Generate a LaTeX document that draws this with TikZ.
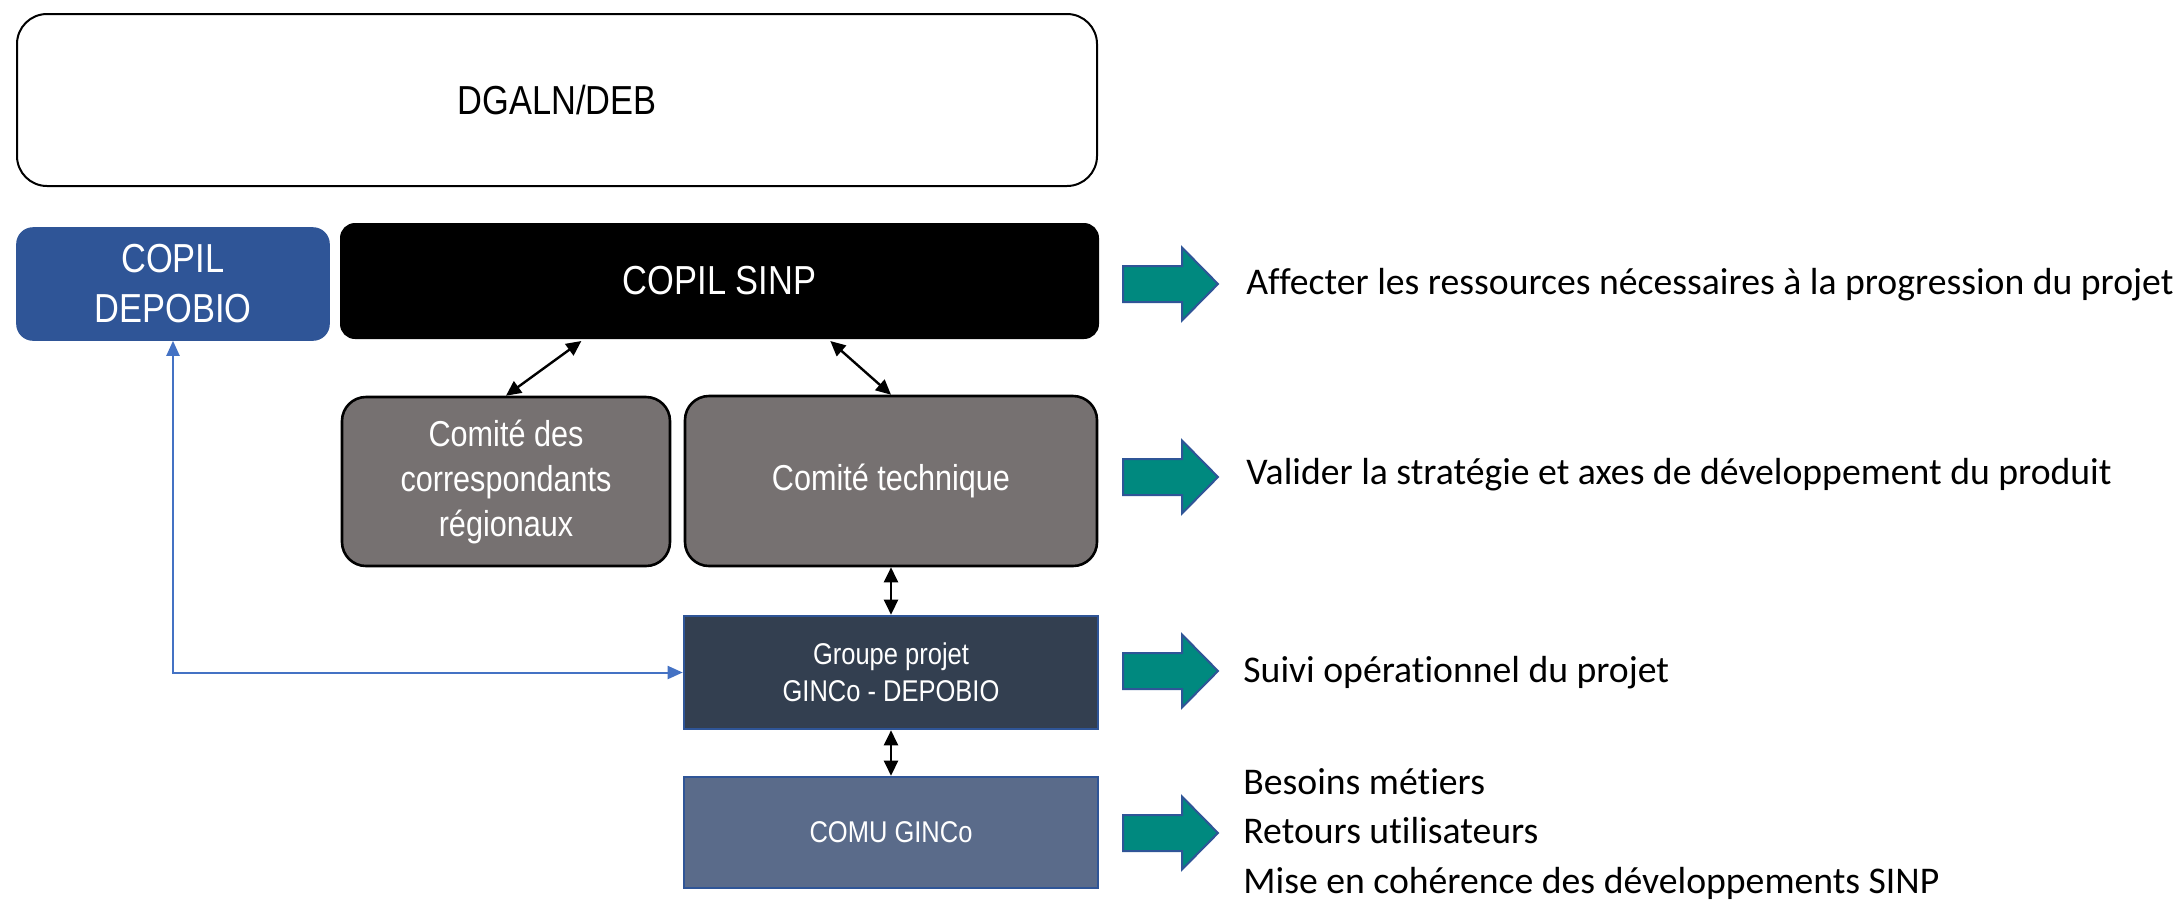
\documentclass[tikz,border=0pt]{standalone}
\usepackage{fontspec}
\setmainfont{Liberation Sans}[FakeStretch=0.85]
\newfontfamily\calib{Carlito}[Ligatures=NoCommon]
\usetikzlibrary{arrows.meta,calc}
\definecolor{depblue}{HTML}{2F5597}
\definecolor{grayc}{HTML}{767171}
\definecolor{gpfill}{HTML}{333F50}
\definecolor{comufill}{HTML}{5A6B8A}
\definecolor{linkblue}{HTML}{4472C4}
\definecolor{tealc}{HTML}{00897F}
\definecolor{tealedge}{HTML}{2F5597}
\tikzset{
  box/.style={inner sep=0pt, align=center, text=white},
  bigfont/.style={font=\fontsize{20.25}{25}\selectfont},
  midfont/.style={font=\fontsize{18}{22.5}\selectfont},
  smallfont/.style={font=\fontsize{15}{18.75}\selectfont},
  rtext/.style={inner sep=0pt, anchor=west, align=left, font=\calib\fontsize{18.85}{24.7}\selectfont},
  dbl/.style={{Triangle[length=7.5pt,width=7pt]}-{Triangle[length=7.5pt,width=7pt]}, line width=1.2pt, black},
  bluelink/.style={{Triangle[length=7.5pt,width=6.5pt]}-{Triangle[length=7.5pt,width=6.5pt]}, line width=1pt, linkblue},
  blockarrow/.pic={\draw[fill=tealc, draw=tealedge, line width=1pt, line join=miter]
     (0,-18) -- (59,-18) -- (59,-36.5) -- (95,0) -- (59,36.5) -- (59,18) -- (0,18) -- cycle;}
}
\begin{document}
\begin{tikzpicture}[x=0.5pt,y=-0.5pt]
\useasboundingbox (0,0) rectangle (2184,901);
% boxes
\node[box, text=black, draw=black, line width=1pt, fill=white, rounded corners=15pt,
      minimum width=540pt, minimum height=86pt, bigfont] (dgaln) at (557,100) {DGALN/DEB};
\node[box, draw=depblue, line width=0.8pt, fill=depblue, rounded corners=8pt,
      minimum width=156pt, minimum height=56pt, bigfont] (dep) at (173,284) {COPIL\\DEPOBIO};
\node[box, draw=black, line width=1pt, fill=black, rounded corners=7pt,
      minimum width=378.5pt, minimum height=57pt, bigfont] (sinp) at (719.5,281) {COPIL SINP};
\node[box, draw=black, line width=1.3pt, fill=grayc, rounded corners=12pt,
      minimum width=164pt, minimum height=84.5pt, midfont] (cdc) at (506,481.5) {Comité des\\correspondants\\régionaux};
\node[box, draw=black, line width=1.3pt, fill=grayc, rounded corners=12pt,
      minimum width=206pt, minimum height=85pt, midfont] (ct) at (891,481) {Comité technique};
\node[box, draw=depblue, line width=1.3pt, fill=gpfill,
      minimum width=207pt, minimum height=56.5pt, smallfont] (gp) at (891,672.5) {Groupe projet\\GINCo - DEPOBIO};
\node[box, draw=depblue, line width=1.3pt, fill=comufill,
      minimum width=207pt, minimum height=55.5pt, smallfont] (comu) at (891,832.5) {COMU GINCo};
% connectors
\draw[dbl] (cdc.north) -- ($(sinp.south west)!0.318!(sinp.south east)+(0,2)$);
\draw[dbl] (ct.north) -- ($(sinp.south west)!0.646!(sinp.south east)+(0,2)$);
\draw[dbl] (ct.south) -- (gp.north);
\draw[dbl] (gp.south) -- (comu.north);
\draw[bluelink] (dep.south) |- (gp.west);
% block arrows
\pic at (1123,284) {blockarrow};
\pic at (1123,477) {blockarrow};
\pic at (1123,671) {blockarrow};
\pic at (1123,833) {blockarrow};
% right texts
\node[rtext] (t1) at (1246,285) {Affecter les ressources nécessaires à la progression du projet};
\node[rtext] (t2) at (1246,475) {Valider la stratégie et axes de développement du produit};
\node[rtext] (t3) at (1243,673) {Suivi opérationnel du projet};
\node[rtext] (t4) at (1243,834) {Besoins métiers\\Retours utilisateurs\\Mise en cohérence des développements SINP};
\end{tikzpicture}
\end{document}
